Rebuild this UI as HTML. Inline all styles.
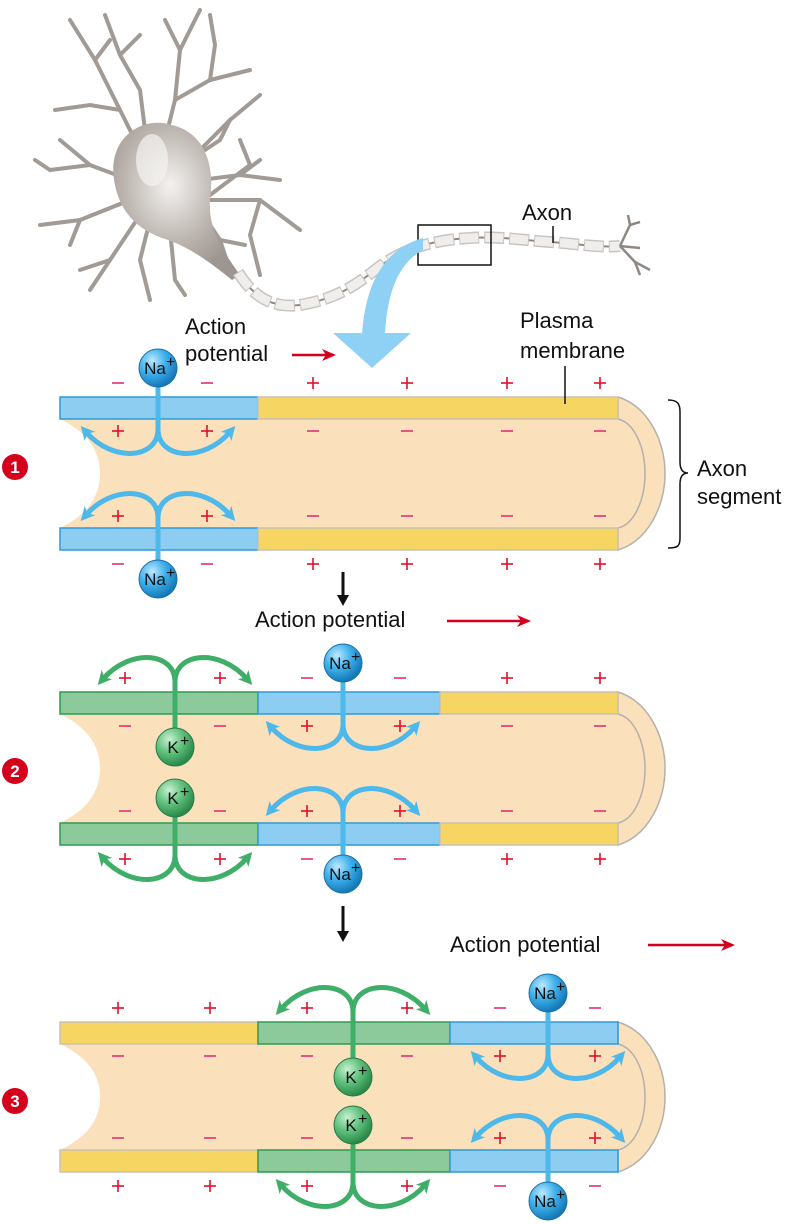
<!DOCTYPE html>
<html><head><meta charset="utf-8"><style>
html,body{margin:0;padding:0;background:#fff;}
svg{display:block;font-family:"Liberation Sans",sans-serif;}
</style></head><body>
<svg id="fig" width="800" height="1225" viewBox="0 0 800 1225">
<defs>
<marker id="mb" markerUnits="userSpaceOnUse" markerWidth="16" markerHeight="16" refX="6" refY="8" orient="auto"><path d="M0,1 L14,8 L0,15 L4,8 Z" fill="#4db8ea"/></marker>
<marker id="mg" markerUnits="userSpaceOnUse" markerWidth="16" markerHeight="16" refX="6" refY="8" orient="auto"><path d="M0,1 L14,8 L0,15 L4,8 Z" fill="#3fae68"/></marker>
<radialGradient id="gNa" cx="0.35" cy="0.3" r="0.7"><stop offset="0" stop-color="#bfe8ff"/><stop offset="0.5" stop-color="#3fb1ec"/><stop offset="1" stop-color="#1579b8"/></radialGradient>
<radialGradient id="gK" cx="0.35" cy="0.3" r="0.7"><stop offset="0" stop-color="#c9f0d2"/><stop offset="0.5" stop-color="#62c27e"/><stop offset="1" stop-color="#2a8a4a"/></radialGradient>
<radialGradient id="gBody" cx="0.45" cy="0.4" r="0.6"><stop offset="0" stop-color="#f4f2f0"/><stop offset="0.6" stop-color="#bdb6b0"/><stop offset="1" stop-color="#9d958f"/></radialGradient>
</defs>
<g id="neuron">
<g stroke="#a29a94" stroke-width="4" fill="none" stroke-linecap="round">
<path d="M150,170 L120,110 L95,60 L70,20"/><path d="M95,60 L110,40"/><path d="M120,110 L90,105 L55,110"/><path d="M150,170 L140,90 L120,55 L105,15"/><path d="M120,55 L140,35"/>
<path d="M160,160 L175,100 L180,50 L200,10"/><path d="M180,50 L165,20"/><path d="M175,100 L210,80 L250,70"/><path d="M210,80 L215,45 L210,15"/>
<path d="M180,170 L230,120 L260,95"/><path d="M230,120 L220,140 L205,150"/><path d="M200,180 L240,175 L280,180"/><path d="M240,175 L260,160"/>
<path d="M200,200 L260,200 L300,230"/><path d="M260,200 L250,235 L260,275"/><path d="M210,195 L250,165 L240,140"/>
<path d="M130,180 L90,165 L50,170 L35,160"/><path d="M90,165 L60,140"/><path d="M130,200 L80,220 L40,225"/><path d="M80,220 L70,245"/>
<path d="M140,215 L110,260 L90,290"/><path d="M110,260 L80,270"/><path d="M150,220 L140,260 L150,300"/><path d="M170,230 L175,280 L185,295"/>
<path d="M200,210 L220,240 L230,270"/><path d="M220,240 L245,245"/>
</g>
<path d="M115,185 C105,140 140,115 172,125 C205,133 215,165 210,200 C208,228 222,250 240,275 L232,280 C205,258 185,245 162,238 C135,228 120,210 115,185 Z" fill="url(#gBody)"/>
<ellipse cx="152" cy="160" rx="16" ry="26" fill="#f5f3f1" opacity="0.7"/>
<path d="M238,272 C255,300 275,308 300,305 C330,300 350,290 375,270 C400,250 430,240 470,238 C500,236 520,240 550,242 C580,244 600,248 620,246" fill="none" stroke="#8f8882" stroke-width="2"/>
<path d="M238,272 C255,300 275,308 300,305 C330,300 350,290 375,270 C400,250 430,240 470,238 C500,236 520,240 550,242 C580,244 600,248 620,246" fill="none" stroke="#c8c4c0" stroke-width="12" stroke-dasharray="20 5" stroke-linecap="butt"/>
<path d="M238,272 C255,300 275,308 300,305 C330,300 350,290 375,270 C400,250 430,240 470,238 C500,236 520,240 550,242 C580,244 600,248 620,246" fill="none" stroke="#f0eeec" stroke-width="9" stroke-dasharray="18 7" stroke-dashoffset="-1" stroke-linecap="butt"/>
<g stroke="#8f8882" stroke-width="2.5" fill="none"><path d="M620,246 L630,225 L628,215"/><path d="M630,225 L640,222"/><path d="M620,246 L635,262 L650,270"/><path d="M635,262 L640,275"/><path d="M620,246 L640,248"/></g>
<rect x="418" y="225" width="73" height="40" fill="none" stroke="#111" stroke-width="1.5"/>
<path d="M423,238 C380,250 365,290 362,335 L385,335 C387,290 400,262 423,250 Z" fill="#8fd0f5"/>
<path d="M333,333 L411,333 L372,368 Z" fill="#8fd0f5"/>
</g>
</svg>
<script>
const NS='http://www.w3.org/2000/svg';
const svg=document.getElementById('fig');
function mk(tag,attrs,parent){const e=document.createElementNS(NS,tag);for(const k in attrs)e.setAttribute(k,attrs[k]);(parent||svg).appendChild(e);return e;}
const COL={b:['#8ecdf2','#2f9ad6'],y:['#f7d563','#c9c2b5'],g:['#8cc99b','#2e9a50']};
const panelTops=[397,692,1022];
const panelBots=[528,823,1150];
const panelSegs=[[['b',60,258],['y',258,618]],[['g',60,258],['b',258,440],['y',440,618]],[['y',60,258],['g',258,450],['b',450,618]]];
const signXs=[[118,207,313,407,507,600],[125,220,307,400,507,600],[118,210,307,407,500,595]];
const signRows=[['-','-','+','+','+','+'],['+','+','-','-','-','-'],['+','+','-','-','-','-'],['-','-','+','+','+','+'],
['+','+','-','-','+','+'],['-','-','+','+','-','-'],['-','-','+','+','-','-'],['+','+','-','-','+','+'],
['+','+','+','+','-','-'],['-','-','-','-','+','+'],['-','-','-','-','+','+'],['+','+','+','+','-','-']];
const channels=[[['Na',158]],[['K',175],['Na',343]],[['K',353],['Na',548]]];
const H=22;
function arrowPair(cx,y0,d,color,marker,name){
 [-1,1].forEach(s=>{
  const p=mk('path',{d:`M${cx},${y0} L${cx},${y0+d*6} C${cx},${y0+d*36} ${cx+s*45},${y0+d*40} ${cx+s*72},${y0+d*9}`,fill:'none',stroke:color,'stroke-width':5,'marker-end':`url(#${marker})`});
  
  
 });
}
function ion(cx,cy,type){
 const g=mk('g',{});
 
 
 mk('circle',{cx:cx,cy:cy,r:19,fill:type==='Na'?'url(#gNa)':'url(#gK)',stroke:type==='Na'?'#1a6fa6':'#2a7a45','stroke-width':1},g);
 const t=mk('text',{x:cx-(type==='Na'?3:2),y:cy+6,'font-size':17,'text-anchor':'middle',fill:'#111'},g);
 t.textContent=type;
 const s=mk('text',{x:cx+(type==='Na'?8:5),y:cy-1,'font-size':16,fill:'#111'},g);
 s.textContent='+';
}
function sign(x,y,ch){
 const g=mk('g',{stroke:ch==='+'?'#e0102e':'#e0307a','stroke-width':1.6});
 
 
 mk('line',{x1:x-6,y1:y,x2:x+6,y2:y},g);
 if(ch==='+')mk('line',{x1:x,y1:y-6,x2:x,y2:y+6},g);
}
panelTops.forEach((yt,i)=>{
 const yb=panelBots[i];
 const g=mk('g',{});
 
 
 const yi1=yt+H, yi2=yb, mid=(yi1+yi2)/2;
 const cap=mk('path',{d:`M618,${yt} C650,${yt+10} 665,${mid-30} 665,${mid} C665,${mid+30} 650,${yb+H-10} 618,${yb+H} Z`,fill:'#fbe0bc',stroke:'#b5b0aa','stroke-width':1.5},g);
 
 
 const inner=mk('path',{d:`M60,${yi1} L618,${yi1} C635,${yi1+4} 645,${mid-25} 645,${mid} C645,${mid+25} 635,${yi2-4} 618,${yi2} L60,${yi2} C85,${yi2-12} 100,${mid+25} 100,${mid} C100,${mid-25} 85,${yi1+12} 60,${yi1} Z`,fill:'#fbe0bc',stroke:'none'},g);
 
 
 mk('path',{d:`M618,${yi1} C635,${yi1+4} 645,${mid-25} 645,${mid} C645,${mid+25} 635,${yi2-4} 618,${yi2}`,fill:'none',stroke:'#b5b0aa','stroke-width':1.5},g);
 [yt,yb].forEach((my,k)=>{
  panelSegs[i].forEach(s=>{
   const r=mk('rect',{x:s[1],y:my,width:s[2]-s[1],height:H,fill:COL[s[0]][0],stroke:COL[s[0]][1],'stroke-width':1.5},g);
   
   
  });
 });
 const rowY=[yt-14,yt+H+12,yb-12,yb+H+14];
 for(let r=0;r<4;r++)signXs[i].forEach((x,j)=>sign(x,rowY[r],signRows[i*4+r][j]));
 channels[i].forEach(c=>{
  const cx=c[1];
  if(c[0]==='Na'){
   mk('line',{x1:cx,y1:yt-20,x2:cx,y2:yt+H+6,stroke:'#4db8ea','stroke-width':5},g);
   mk('line',{x1:cx,y1:yb-6,x2:cx,y2:yb+H+20,stroke:'#4db8ea','stroke-width':5},g);
   arrowPair(cx,yt+H+4,1,'#4db8ea','mb','na-influx-arrow');
   arrowPair(cx,yb-4,-1,'#4db8ea','mb','na-influx-arrow');
   ion(cx,yt-29,'Na');ion(cx,yb+H+29,'Na');
  }else{
   mk('line',{x1:cx,y1:yt-6,x2:cx,y2:yt+H+16,stroke:'#3fae68','stroke-width':5},g);
   mk('line',{x1:cx,y1:yb-16,x2:cx,y2:yb+H+6,stroke:'#3fae68','stroke-width':5},g);
   arrowPair(cx,yt-4,-1,'#3fae68','mg','k-efflux-arrow');
   arrowPair(cx,yb+H+4,1,'#3fae68','mg','k-efflux-arrow');
   ion(cx,yt+H+33,'K');ion(cx,yb-25,'K');
  }
 });
 const n=mk('g',{});
 
 
 mk('circle',{cx:15,cy:[467,771,1101][i],r:13,fill:'#d5001c'},n);
 const t=mk('text',{x:15,y:[467,771,1101][i]+6,'font-size':17,'font-weight':'bold','text-anchor':'middle',fill:'#fff'},n);
 t.textContent=String(i+1);
});
function label(x,y,str,name,size){
 const t=mk('text',{x:x,y:y,'font-size':size||22,fill:'#111'});
 t.textContent=str;
 
 
}
function redArrow(x1,x2,y,name){
 const g=mk('g',{});
 
 
 mk('line',{x1:x1,y1:y,x2:x2-10,y2:y,stroke:'#d5001c','stroke-width':2.5},g);
 mk('path',{d:`M${x2-14},${y-6} L${x2},${y} L${x2-14},${y+6} L${x2-10},${y} Z`,fill:'#d5001c'},g);
}
function downArrow(x,y1,y2,name){
 const g=mk('g',{});
 
 
 mk('line',{x1:x,y1:y1,x2:x,y2:y2-8,stroke:'#111','stroke-width':3},g);
 mk('path',{d:`M${x-6},${y2-11} L${x},${y2} L${x+6},${y2-11} Z`,fill:'#111'},g);
}
label(185,334,'Action','action-potential-label-1');
label(185,361,'potential','action-potential-label-1b');
redArrow(292,336,355,'propagation-arrow-1');
label(520,328,'Plasma','plasma-membrane-label');
label(520,358,'membrane','plasma-membrane-label-2');
mk('line',{x1:565,y1:366,x2:565,y2:404,stroke:'#111','stroke-width':1.5});
label(522,220,'Axon','axon-label');
mk('line',{x1:553,y1:226,x2:553,y2:243,stroke:'#111','stroke-width':1.5});
label(697,476,'Axon','axon-segment-label');
label(697,504,'segment','axon-segment-label-2');
mk('path',{d:'M668,400 C678,400 680,404 680,412 L680,462 C680,470 683,473 688,473 C683,473 680,476 680,484 L680,538 C680,546 678,548 668,548',fill:'none',stroke:'#111','stroke-width':1.5});
downArrow(343,572,606,'next-step-arrow-1');
label(255,627,'Action potential','action-potential-label-2');
redArrow(447,531,621,'propagation-arrow-2');
downArrow(343,906,942,'next-step-arrow-2');
label(450,952,'Action potential','action-potential-label-3');
redArrow(648,735,945,'propagation-arrow-3');
</script>
</body></html>
